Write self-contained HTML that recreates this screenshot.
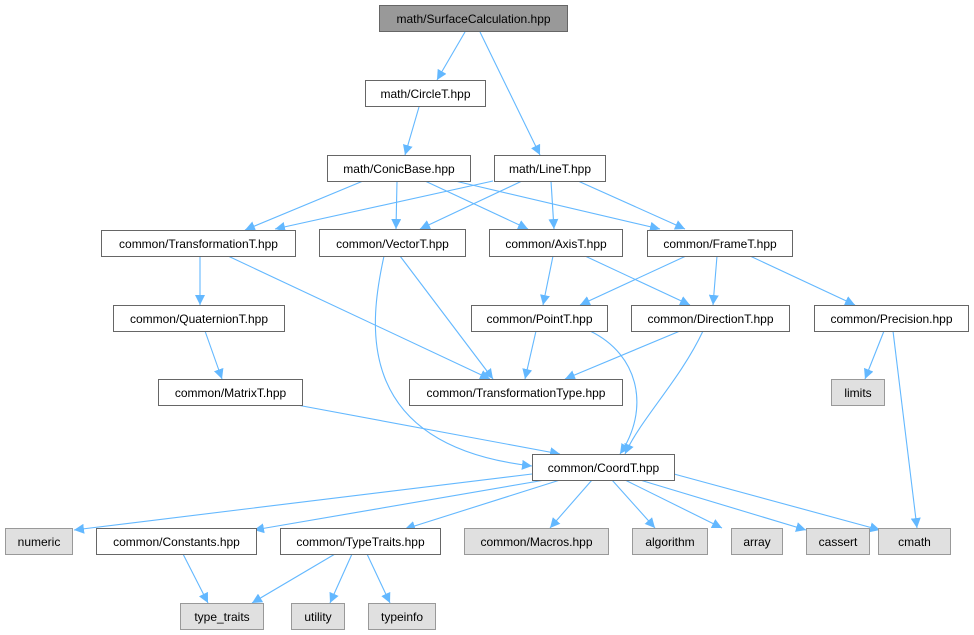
<!DOCTYPE html>
<html><head><meta charset="utf-8"><style>
html,body{margin:0;padding:0;background:#fff;}
svg{display:block;}
text{font-family:"Liberation Sans",Arial,sans-serif;font-size:12px;fill:#000;}
</style></head><body>
<svg width="974" height="635" viewBox="0 0 974 635" xmlns="http://www.w3.org/2000/svg">
<defs>
<marker id="a" viewBox="0 0 10 10" refX="10" refY="5" markerWidth="10" markerHeight="10" markerUnits="userSpaceOnUse" orient="auto">
<path d="M0,0 L10,5 L0,10 z" fill="#63b8ff"/>
</marker>
</defs>
<g stroke="#63b8ff" stroke-width="1.1" fill="none" marker-end="url(#a)">
<line x1="465" y1="32" x2="437" y2="80"/>
<line x1="480" y1="32" x2="540" y2="155"/>
<line x1="419" y1="107" x2="405" y2="155"/>
<line x1="363" y1="181" x2="245" y2="230"/>
<line x1="397" y1="181" x2="396" y2="229"/>
<line x1="425" y1="181" x2="528" y2="229"/>
<line x1="455" y1="181" x2="660" y2="229"/>
<line x1="493" y1="181" x2="275" y2="229"/>
<line x1="522" y1="181" x2="420" y2="229"/>
<line x1="551" y1="181" x2="554" y2="229"/>
<line x1="578" y1="181" x2="685" y2="229"/>
<line x1="200" y1="256" x2="200" y2="305"/>
<line x1="228" y1="256" x2="490" y2="379"/>
<path d="M384,256 C370,320 350,445 532,466"/>
<line x1="400" y1="256" x2="493" y2="379"/>
<line x1="553" y1="256" x2="543" y2="305"/>
<line x1="585" y1="256" x2="690" y2="305"/>
<line x1="686" y1="256" x2="580" y2="305"/>
<line x1="717" y1="256" x2="713" y2="305"/>
<line x1="750" y1="256" x2="855" y2="305"/>
<line x1="205" y1="331" x2="222" y2="379"/>
<line x1="536" y1="331" x2="525" y2="379"/>
<path d="M590,331 C640,355 650,410 620,454"/>
<line x1="680" y1="331" x2="565" y2="379"/>
<path d="M703,331 C680,380 640,420 625,454"/>
<line x1="884" y1="331" x2="865" y2="379"/>
<line x1="893" y1="331" x2="917" y2="528"/>
<line x1="297" y1="405" x2="560" y2="454"/>
<line x1="532" y1="474" x2="74" y2="530"/>
<line x1="545" y1="480" x2="254" y2="530"/>
<line x1="560" y1="480" x2="405" y2="529"/>
<line x1="592" y1="480" x2="550" y2="528"/>
<line x1="612" y1="480" x2="655" y2="528"/>
<line x1="625" y1="480" x2="722" y2="528"/>
<line x1="640" y1="480" x2="806" y2="530"/>
<line x1="674" y1="474" x2="880" y2="530"/>
<line x1="183" y1="554" x2="208" y2="603"/>
<line x1="335" y1="554" x2="252" y2="603"/>
<line x1="352" y1="554" x2="330" y2="603"/>
<line x1="367" y1="554" x2="390" y2="603"/>
</g>
<g stroke-width="1">
<rect x="379.5" y="5.5" width="188" height="26" fill="#999" stroke="#666"/>
<rect x="365.5" y="80.5" width="120" height="26" fill="#fff" stroke="#666"/>
<rect x="327.5" y="155.5" width="143" height="26" fill="#fff" stroke="#666"/>
<rect x="494.5" y="155.5" width="111" height="26" fill="#fff" stroke="#666"/>
<rect x="101.5" y="230.5" width="194" height="26" fill="#fff" stroke="#666"/>
<rect x="319.5" y="229.5" width="146" height="27" fill="#fff" stroke="#666"/>
<rect x="489.5" y="229.5" width="133" height="27" fill="#fff" stroke="#666"/>
<rect x="647.5" y="230.5" width="145" height="26" fill="#fff" stroke="#666"/>
<rect x="113.5" y="305.5" width="171" height="26" fill="#fff" stroke="#666"/>
<rect x="471.5" y="305.5" width="136" height="26" fill="#fff" stroke="#666"/>
<rect x="631.5" y="305.5" width="158" height="26" fill="#fff" stroke="#666"/>
<rect x="814.5" y="305.5" width="154" height="26" fill="#fff" stroke="#666"/>
<rect x="158.5" y="379.5" width="144" height="26" fill="#fff" stroke="#666"/>
<rect x="409.5" y="379.5" width="213" height="26" fill="#fff" stroke="#666"/>
<rect x="831.5" y="379.5" width="53" height="26" fill="#e0e0e0" stroke="#999"/>
<rect x="532.5" y="454.5" width="142" height="26" fill="#fff" stroke="#666"/>
<rect x="5.5" y="528.5" width="67" height="26" fill="#e0e0e0" stroke="#999"/>
<rect x="96.5" y="528.5" width="160" height="26" fill="#fff" stroke="#666"/>
<rect x="280.5" y="528.5" width="160" height="26" fill="#fff" stroke="#666"/>
<rect x="464.5" y="528.5" width="144" height="26" fill="#e0e0e0" stroke="#999"/>
<rect x="632.5" y="528.5" width="75" height="26" fill="#e0e0e0" stroke="#999"/>
<rect x="731.5" y="528.5" width="51" height="26" fill="#e0e0e0" stroke="#999"/>
<rect x="806.5" y="528.5" width="63" height="26" fill="#e0e0e0" stroke="#999"/>
<rect x="878.5" y="528.5" width="72" height="26" fill="#e0e0e0" stroke="#999"/>
<rect x="180.5" y="603.5" width="83" height="26" fill="#e0e0e0" stroke="#999"/>
<rect x="291.5" y="603.5" width="53" height="26" fill="#e0e0e0" stroke="#999"/>
<rect x="368.5" y="603.5" width="67" height="26" fill="#e0e0e0" stroke="#999"/>
</g>
<g text-anchor="middle">
<text x="473.5" y="23">math/SurfaceCalculation.hpp</text>
<text x="425.5" y="98">math/CircleT.hpp</text>
<text x="399" y="173">math/ConicBase.hpp</text>
<text x="550" y="173">math/LineT.hpp</text>
<text x="198.5" y="248">common/TransformationT.hpp</text>
<text x="392.5" y="248">common/VectorT.hpp</text>
<text x="556" y="248">common/AxisT.hpp</text>
<text x="720" y="248">common/FrameT.hpp</text>
<text x="199" y="323">common/QuaternionT.hpp</text>
<text x="539.5" y="323">common/PointT.hpp</text>
<text x="710.5" y="323">common/DirectionT.hpp</text>
<text x="891.5" y="323">common/Precision.hpp</text>
<text x="230.5" y="397">common/MatrixT.hpp</text>
<text x="516" y="397">common/TransformationType.hpp</text>
<text x="858" y="397">limits</text>
<text x="603.5" y="472">common/CoordT.hpp</text>
<text x="39" y="546">numeric</text>
<text x="176.5" y="546">common/Constants.hpp</text>
<text x="360.5" y="546">common/TypeTraits.hpp</text>
<text x="536.5" y="546">common/Macros.hpp</text>
<text x="670" y="546">algorithm</text>
<text x="757" y="546">array</text>
<text x="838" y="546">cassert</text>
<text x="914.5" y="546">cmath</text>
<text x="222" y="621">type_traits</text>
<text x="318" y="621">utility</text>
<text x="402" y="621">typeinfo</text>
</g>
</svg>
</body></html>
